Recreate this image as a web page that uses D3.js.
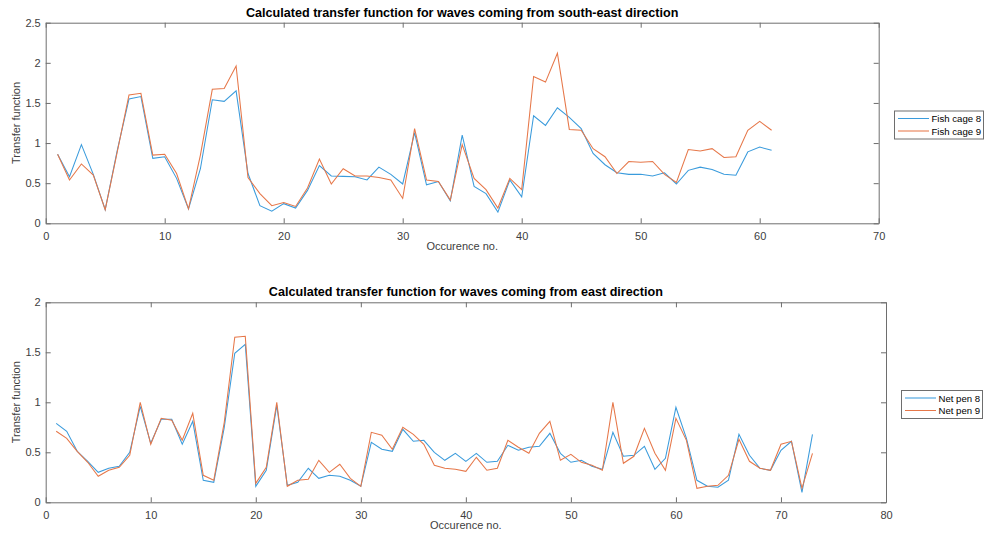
<!DOCTYPE html>
<html>
<head>
<meta charset="utf-8">
<script src="https://cdn.jsdelivr.net/npm/d3@7"></script>
<style>
  html, body { margin: 0; padding: 0; background: #fff; }
  svg { display: block; font-family: "Liberation Sans", Arial, Helvetica, sans-serif; }
</style>
</head>
<body>
<svg id="chart" width="984" height="538"></svg>
<script>
// South-east waves: transfer function per occurrence
const seOccurrence = d3.range(1, 62);
const fishCage8 = [0.86, 0.58, 0.98, 0.61, 0.17, 0.90, 1.55, 1.58, 0.81, 0.83,
  0.56, 0.18, 0.68, 1.54, 1.52, 1.65, 0.62, 0.22, 0.15, 0.245,
  0.19, 0.41, 0.72, 0.59, 0.585, 0.58, 0.54, 0.70, 0.61, 0.49,
  1.13, 0.48, 0.52, 0.28, 1.10, 0.46, 0.37, 0.14, 0.54, 0.33,
  1.34, 1.22, 1.44, 1.32, 1.18, 0.87, 0.73, 0.63, 0.61, 0.61,
  0.59, 0.63, 0.49, 0.66, 0.70, 0.67, 0.61, 0.60, 0.89, 0.95, 0.91];
const fishCage9 = [0.86, 0.54, 0.74, 0.60, 0.17, 0.88, 1.60, 1.62, 0.85, 0.86,
  0.62, 0.18, 0.85, 1.67, 1.68, 1.96, 0.57, 0.37, 0.22, 0.26,
  0.21, 0.44, 0.80, 0.49, 0.68, 0.59, 0.59, 0.57, 0.54, 0.31,
  1.18, 0.54, 0.52, 0.29, 0.98, 0.56, 0.42, 0.19, 0.56, 0.42,
  1.83, 1.76, 2.12, 1.17, 1.16, 0.93, 0.83, 0.62, 0.77, 0.76,
  0.77, 0.61, 0.51, 0.92, 0.90, 0.93, 0.82, 0.83, 1.16, 1.27, 1.16];

// East waves: transfer function per occurrence
const eOccurrence = d3.range(1, 74);
const netPen8 = [0.79, 0.71, 0.51, 0.41, 0.30, 0.34, 0.36, 0.50, 0.96, 0.59,
  0.83, 0.83, 0.58, 0.81, 0.22, 0.20, 0.75, 1.49, 1.58, 0.16,
  0.32, 0.97, 0.17, 0.20, 0.34, 0.24, 0.27, 0.26, 0.22, 0.16,
  0.60, 0.53, 0.51, 0.73, 0.61, 0.62, 0.50, 0.42, 0.49, 0.41,
  0.49, 0.40, 0.41, 0.57, 0.52, 0.55, 0.56, 0.69, 0.49, 0.40,
  0.42, 0.36, 0.33, 0.70, 0.46, 0.47, 0.56, 0.33, 0.44, 0.95,
  0.64, 0.22, 0.16, 0.15, 0.22, 0.68, 0.47, 0.34, 0.32, 0.52,
  0.61, 0.10, 0.68];
const netPen9 = [0.71, 0.64, 0.51, 0.40, 0.26, 0.32, 0.35, 0.47, 1.00, 0.58,
  0.84, 0.82, 0.62, 0.89, 0.27, 0.22, 0.80, 1.65, 1.66, 0.19,
  0.35, 1.00, 0.16, 0.22, 0.23, 0.42, 0.30, 0.38, 0.24, 0.16,
  0.70, 0.67, 0.53, 0.75, 0.68, 0.58, 0.37, 0.34, 0.33, 0.31,
  0.45, 0.32, 0.34, 0.62, 0.55, 0.49, 0.69, 0.81, 0.42, 0.48,
  0.40, 0.37, 0.32, 1.00, 0.39, 0.46, 0.74, 0.49, 0.32, 0.84,
  0.62, 0.14, 0.16, 0.17, 0.27, 0.63, 0.41, 0.34, 0.32, 0.58,
  0.61, 0.14, 0.49];

const seXTicks = [0, 10, 20, 30, 40, 50, 60, 70];
const seYTicks = [0, 0.5, 1, 1.5, 2, 2.5];
const eXTicks = [0, 10, 20, 30, 40, 50, 60, 70, 80];
const eYTicks = [0, 0.5, 1, 1.5, 2];

const BLUE = "#3a9bdc";
const ORANGE = "#e67749";
const AXIS = "#6e6e6e";
const TEXT = "#404040";

const svg = d3.select("#chart");

function panel(cfg) {
  const x = d3.scaleLinear().domain(cfg.xDomain).range([cfg.left, cfg.right]);
  const y = d3.scaleLinear().domain(cfg.yDomain).range([cfg.bottom, cfg.top]);
  const g = svg.append("g");

  const fmt = d => String(d);

  // bottom axis with labels, ticks pointing inward
  const xb = g.append("g").attr("transform", `translate(0,${cfg.bottom})`)
    .call(d3.axisBottom(x).tickValues(cfg.xTicks).tickFormat(fmt).tickSize(-5).tickSizeOuter(0).tickPadding(9));
  // top axis: ticks only
  const xt = g.append("g").attr("transform", `translate(0,${cfg.top})`)
    .call(d3.axisTop(x).tickValues(cfg.xTicks).tickFormat("").tickSize(-5).tickSizeOuter(0));
  // left axis with labels
  const yl = g.append("g").attr("transform", `translate(${cfg.left},0)`)
    .call(d3.axisLeft(y).tickValues(cfg.yTicks).tickFormat(fmt).tickSize(-5).tickSizeOuter(0).tickPadding(5));
  // right axis: ticks only
  const yr = g.append("g").attr("transform", `translate(${cfg.right},0)`)
    .call(d3.axisRight(y).tickValues(cfg.yTicks).tickFormat("").tickSize(-5).tickSizeOuter(0));

  [xb, xt, yl, yr].forEach(a => {
    a.select(".domain").attr("stroke", AXIS);
    a.selectAll(".tick line").attr("stroke", AXIS);
    a.selectAll(".tick text").attr("fill", TEXT).style("font-size", "11px")
      .style("font-family", '"Liberation Sans", Arial, sans-serif');
  });

  // plot lines
  const line = d3.line().x(d => x(d[0])).y(d => y(d[1]));
  cfg.series.forEach(s => {
    g.append("path")
      .datum(cfg.xs.map((xv, i) => [xv, s.values[i]]))
      .attr("fill", "none")
      .attr("stroke", s.color)
      .attr("stroke-width", 1.05)
      .attr("stroke-linejoin", "miter")
      .attr("d", line);
  });

  // title
  g.append("text")
    .attr("x", (cfg.left + cfg.right) / 2)
    .attr("y", cfg.top - 6)
    .attr("text-anchor", "middle")
    .attr("fill", "#000")
    .style("font-size", "12.6px")
    .style("font-weight", "bold")
    .text(cfg.title);

  // axis titles
  g.append("text")
    .attr("x", (cfg.left + cfg.right) / 2)
    .attr("y", cfg.bottom + 27)
    .attr("text-anchor", "middle")
    .attr("fill", TEXT)
    .style("font-size", "11px")
    .text("Occurence no.");

  g.append("text")
    .attr("transform", `translate(20,${(cfg.top + cfg.bottom) / 2}) rotate(-90)`)
    .attr("text-anchor", "middle")
    .attr("fill", TEXT)
    .style("font-size", "11px")
    .text("Transfer function");

  // legend
  const lg = g.append("g").attr("transform", `translate(${cfg.legend.x},${cfg.legend.y})`);
  lg.append("rect")
    .attr("x", 0.5).attr("y", 0.5)
    .attr("width", cfg.legend.w).attr("height", 28)
    .attr("fill", "#fff").attr("stroke", AXIS);
  cfg.series.forEach((s, i) => {
    const cy = 8 + i * 12.5;
    lg.append("line")
      .attr("x1", 4).attr("x2", 35)
      .attr("y1", cy).attr("y2", cy)
      .attr("stroke", s.color).attr("stroke-width", 1.05);
    lg.append("text")
      .attr("x", 37.5).attr("y", cy + 3.5)
      .attr("fill", "#000")
      .style("font-size", "9.6px")
      .text(s.name);
  });
}

panel({
  xDomain: [0, 70], yDomain: [0, 2.5],
  left: 45.7, right: 878.7, top: 22.7, bottom: 223.3,
  xTicks: seXTicks, yTicks: seYTicks,
  xs: seOccurrence,
  series: [
    { name: "Fish cage 8", values: fishCage8, color: BLUE },
    { name: "Fish cage 9", values: fishCage9, color: ORANGE }
  ],
  title: "Calculated transfer function for waves coming from south-east direction",
  legend: { x: 894, y: 110.5, w: 89 }
});

panel({
  xDomain: [0, 80], yDomain: [0, 2],
  left: 45.7, right: 886, top: 302.3, bottom: 502.3,
  xTicks: eXTicks, yTicks: eYTicks,
  xs: eOccurrence,
  series: [
    { name: "Net pen 8", values: netPen8, color: BLUE },
    { name: "Net pen 9", values: netPen9, color: ORANGE }
  ],
  title: "Calculated transfer function for waves coming from east direction",
  legend: { x: 901, y: 390, w: 81 }
});
</script>
</body>
</html>
